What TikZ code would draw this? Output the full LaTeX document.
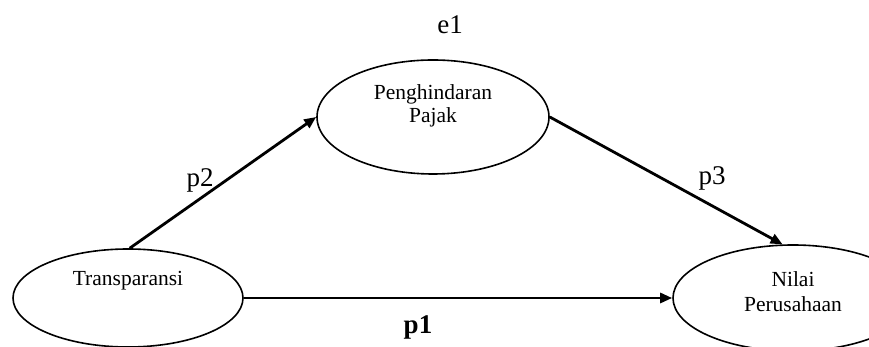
\documentclass[tikz,border=0pt]{standalone}
\usepackage{fontspec}
\setmainfont{Liberation Serif}
\usetikzlibrary{shapes.geometric,arrows.meta}
\begin{document}
\begin{tikzpicture}[x=1pt,y=1pt,
  oval/.style={draw,ellipse,line width=1.6pt,inner sep=0pt},
  intext/.style={align=center,font=\fontsize{21.5}{22.5}\selectfont},
  lbl/.style={font=\fontsize{27}{30}\selectfont},
  arr/.style={line width=2.8pt,-{Triangle[length=12pt,width=10pt]}}]
\useasboundingbox (0,0) rectangle (869,347);
\node[oval,minimum width=230pt,minimum height=98pt] (tr) at (128,49) {};
\node[oval,minimum width=232pt,minimum height=114pt] (ph) at (433,230) {};
\node[oval,minimum width=240pt,minimum height=106pt] (nl) at (793,49) {};
\node[intext] (trt) at (128,66) {Transparansi};
\node[intext] (pht) at (433,241) {Penghindaran\\Pajak};
\node[intext,font=\fontsize{21.5}{25}\selectfont] (nlt) at (793,55) {Nilai\\Perusahaan};
\node[lbl] (e1) at (450,322) {e1};
\node[lbl] (p2) at (200,167) {p2};
\node[lbl] (p3) at (712,169) {p3};
\node[lbl,font=\bfseries\fontsize{27}{30}\selectfont] (p1) at (418,20) {p1};
\draw[arr] (tr.88) -- (ph.west);
\draw[arr] (ph.east) -- (nl.101);
\draw[arr] (tr.east) -- (nl.west);
\end{tikzpicture}
\end{document}
